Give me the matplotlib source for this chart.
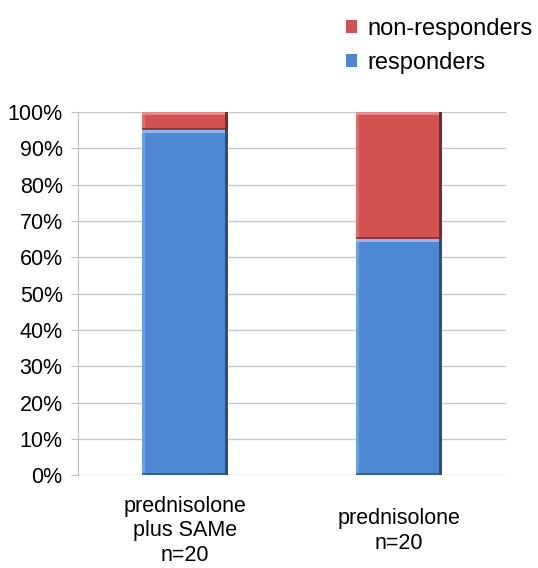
import matplotlib.pyplot as plt
from matplotlib.patches import Rectangle
from matplotlib.ticker import PercentFormatter

plt.rcParams['font.family'] = ['Liberation Sans', 'DejaVu Sans']

groups = ["prednisolone\nplus SAMe\nn=20", "prednisolone\nn=20"]
responders = [95, 65]
non_responders = [5, 35]

BLUE = "#4F88D2"
RED = "#D25252"


def bevel(ax, bar, light, dark):
    # fake the raised-bar look: light strip on top/left, dark strip on right/bottom
    x, y = bar.get_x(), bar.get_y()
    w, h = bar.get_width(), bar.get_height()
    dx, dy = w * 0.03, 0.9
    ax.add_patch(Rectangle((x, y + h - dy), w, dy, color=light, zorder=3, lw=0))
    ax.add_patch(Rectangle((x, y), dx, h, color=light, alpha=0.5, zorder=3, lw=0))
    ax.add_patch(Rectangle((x + w - dx, y), dx, h, color=dark, zorder=3, lw=0))
    ax.add_patch(Rectangle((x, y), w, dy * 0.6, color=dark, alpha=0.7, zorder=3, lw=0))


def main():
    fig = plt.figure(figsize=(5.38, 5.68), dpi=100)
    ax = fig.add_axes([0.145, 0.163, 0.795, 0.64])
    xs = range(len(groups))
    b1 = ax.bar(xs, responders, width=0.4, color=BLUE, zorder=2, label="responders")
    b2 = ax.bar(xs, non_responders, bottom=responders, width=0.4, color=RED, zorder=2,
                label="non-responders")
    for bar in b1:
        bevel(ax, bar, "#8DB9EE", "#2C4F7C")
    for bar in b2:
        bevel(ax, bar, "#E98A88", "#7A2A28")

    ax.set_xlim(-0.5, 1.5)
    ax.set_ylim(0, 100)
    ax.set_yticks(range(0, 101, 10))
    ax.yaxis.set_major_formatter(PercentFormatter(decimals=0))
    ax.set_xticks([])
    ax.tick_params(axis="y", labelsize=15.5, length=5, color="#BFBFBF", pad=6)
    ax.grid(axis="y", color="#C8C8C8", lw=1, zorder=0)
    for s in ["top", "right", "bottom"]:
        ax.spines[s].set_visible(False)
    ax.spines["left"].set_color("#BFBFBF")

    # category labels, each block centred vertically below the axis
    for x, g in zip(xs, groups):
        ax.annotate(g, (x, 0), xycoords=("data", "axes fraction"),
                    xytext=(0, -40), textcoords="offset points",
                    ha="center", va="center", fontsize=15.5, linespacing=1.2)

    handles = [b2, b1]
    fig.legend(handles, ["non-responders", "responders"], loc="upper right",
               bbox_to_anchor=(1.03, 1.006), frameon=False, fontsize=17,
               handlelength=0.45, handleheight=0.45, handletextpad=0.45, labelspacing=0.5)
    fig.savefig("out.png", dpi=100)


if __name__ == '__main__':
    main()
